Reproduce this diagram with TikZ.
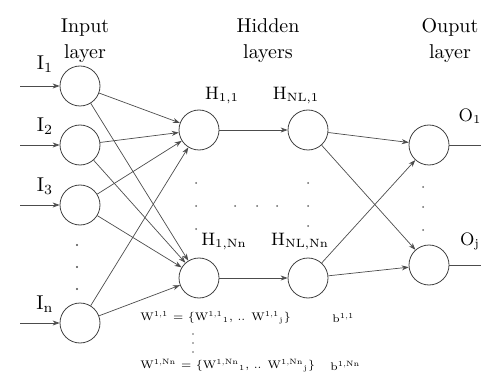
\documentclass[tikz,border=0pt]{standalone}
\usetikzlibrary{arrows.meta}

\begin{document}
\begin{tikzpicture}[x=0.5pt, y=-0.5pt,
    neuron/.style={draw=black!75, circle, minimum size=20pt, inner sep=0pt},
    link/.style={draw=black!70, line width=0.35pt, -{Stealth[length=3.5pt, width=2.5pt]}},
    title/.style={align=center, font=\fontsize{10}{13}\selectfont},
    lbl/.style={font=\fontsize{10}{12}\selectfont, inner sep=0pt},
    eqn/.style={font=\fontsize{5.5}{7}\selectfont, inner sep=0pt, anchor=west}]
  \useasboundingbox (0,0) rectangle (481,379);

  % layer titles
  \node[title] (tin) at (85,41) {Input\\layer};
  \node[title] (thid) at (268,41) {Hidden\\layers};
  \node[title] (tout) at (450,41) {Ouput\\layer};

  % input layer
  \node[neuron] (i1) at (80,86) {};
  \node[neuron] (i2) at (80,145) {};
  \node[neuron] (i3) at (80,205) {};
  \node[neuron] (in) at (80,323) {};
  \node[lbl] (li1) at (45,64) {I\textsubscript{1}};
  \node[lbl] (li2) at (45,126) {I\textsubscript{2}};
  \node[lbl] (li3) at (45,186) {I\textsubscript{3}};
  \node[lbl] (lin) at (45,304) {I\textsubscript{n}};
  \coordinate (x1) at (20,86);
  \coordinate (x2) at (20,145);
  \coordinate (x3) at (20,205);
  \coordinate (xn) at (20,323);
  \foreach \y in {245,267,289} \fill[black!70] (77,\y) circle (1.2);

  % hidden layers
  \node[neuron] (h11) at (199,130) {};
  \node[neuron] (hL1) at (308,130) {};
  \node[neuron] (h1n) at (199,278) {};
  \node[neuron] (hLn) at (308,278) {};
  \node[lbl, font=\fontsize{9}{11}\selectfont] (lh11) at (222,96) {H\textsubscript{1,1}};
  \node[lbl, font=\fontsize{9}{11}\selectfont] (lhL1) at (296,96) {H\textsubscript{NL,1}};
  \node[lbl, font=\fontsize{9}{11}\selectfont] (lh1n) at (224,242) {H\textsubscript{1,Nn}};
  \node[lbl, font=\fontsize{9}{11}\selectfont] (lhLn) at (300,242) {H\textsubscript{NL,Nn}};
  \foreach \y in {183,206,229} \fill[black!60] (196,\y) circle (1);
  \foreach \y in {183,206,226} \fill[black!60] (308,\y) circle (1);
  \foreach \x in {235,257,277} \fill[black!60] (\x,206) circle (1);

  % output layer
  \node[neuron] (o1) at (429,145) {};
  \node[neuron] (o2) at (429,265) {};
  \node[lbl, font=\fontsize{9}{11}\selectfont] (lo1) at (470,116) {O\textsubscript{1}};
  \node[lbl, font=\fontsize{9}{11}\selectfont] (lo2) at (470,241) {O\textsubscript{j}};
  \coordinate (y1) at (481,145);
  \coordinate (y2) at (481,265);
  \foreach \y in {187,207,230} \fill[black!60] (423,\y) circle (1);

  % connections
  \foreach \s in {1,2,3,n} \draw[link] (x\s) -- (i\s);
  \foreach \s in {1,2,3,n} {
    \draw[link] (i\s) -- (h11);
    \draw[link] (i\s) -- (h1n);
  }
  \draw[link] (h11) -- (hL1);
  \draw[link] (h1n) -- (hLn);
  \foreach \h in {hL1,hLn} {
    \draw[link] (\h) -- (o1);
    \draw[link] (\h) -- (o2);
  }
  \draw[draw=black!70, line width=0.35pt] (o1) -- (y1);
  \draw[draw=black!70, line width=0.35pt] (o2) -- (y2);

  % weights and biases
  \node[eqn] (w1) at (140,318) {W\textsuperscript{1,1} = \{W\textsuperscript{1,1}\textsubscript{1}, .. W\textsuperscript{1,1}\textsubscript{j}\}};
  \node[eqn] (b1) at (332,318) {b\textsuperscript{1,1}};
  \node[eqn] (wn) at (140,366) {W\textsuperscript{1,Nn} = \{W\textsuperscript{1,Nn}\textsubscript{1}, .. W\textsuperscript{1,Nn}\textsubscript{j}\}};
  \node[eqn] (bn) at (330,366) {b\textsuperscript{1,Nn}};
  \foreach \y in {334,343,352} \fill[black!60] (193,\y) circle (0.8);
\end{tikzpicture}
\end{document}
